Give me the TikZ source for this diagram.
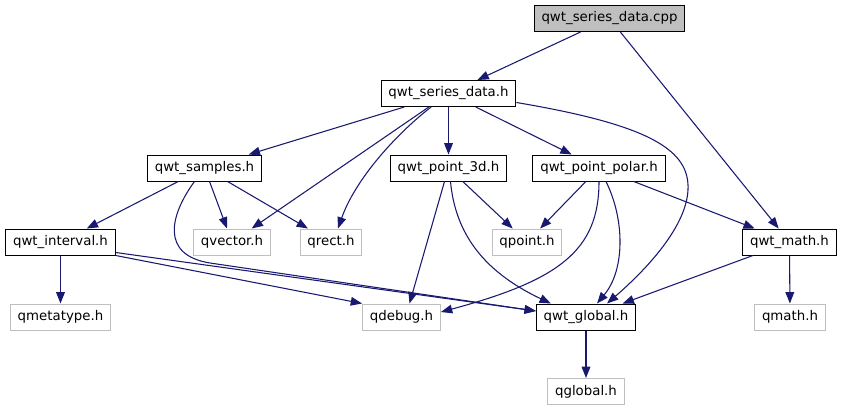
\documentclass[tikz,border=0pt]{standalone}
\usepackage{fontspec}
\setmainfont{DejaVu Sans}
\usepackage{xcolor}
\usepackage{tikz}
\usetikzlibrary{arrows.meta,calc}
\definecolor{edgeblue}{HTML}{191970}
\definecolor{extgray}{HTML}{BFBFBF}

\begin{document}
\begin{tikzpicture}[x=0.75pt, y=-0.75pt,
  hdr/.style={draw=black, line width=0.75pt, minimum height=19.5pt,
              inner xsep=5.5pt, inner ysep=0pt,
              font=\fontsize{10}{12}\selectfont},
  ext/.style={hdr, draw=extgray},
  src/.style={hdr, fill=extgray},
  dep/.style={draw=edgeblue, line width=0.8pt,
              -{Triangle[length=8.5pt,width=6.5pt]}},
]
  \useasboundingbox (0,0) rectangle (844,411);

  % Source file and the headers of the library
  \node[src] (cpp)      at (609.5, 18.5) {qwt\_series\_data.cpp};
  \node[hdr] (sdata)    at (448.5, 93.5) {qwt\_series\_data.h};
  \node[hdr] (samples)  at (204.5, 168)  {qwt\_samples.h};
  \node[hdr] (p3d)      at (448.5, 168)  {qwt\_point\_3d.h};
  \node[hdr] (polar)    at (599,   168)  {qwt\_point\_polar.h};
  \node[hdr] (interval) at (60.5,  242)  {qwt\_interval.h};
  \node[hdr] (math)     at (789.5, 242)  {qwt\_math.h};
  \node[hdr] (global)   at (586,   317)  {qwt\_global.h};

  % Qt headers (external, grey frames)
  \node[ext] (qvector)   at (232,   242)   {qvector.h};
  \node[ext] (qrect)     at (331,   242)   {qrect.h};
  \node[ext] (qpoint)    at (527,   242)   {qpoint.h};
  \node[ext] (qmetatype) at (60.5,  317)   {qmetatype.h};
  \node[ext] (qdebug)    at (401.5, 317)   {qdebug.h};
  \node[ext] (qmath)     at (790,   317)   {qmath.h};
  \node[ext] (qglobal)   at (586,   391.5) {qglobal.h};

  % Includes of the source file
  \draw[dep] (cpp) -- (sdata);
  \draw[dep] (cpp) -- (math);

  % qwt_series_data.h
  \draw[dep] (sdata) -- (samples);
  \draw[dep] (sdata) -- (qvector);
  \draw[dep] (sdata) .. controls (395,135) and (355,180) .. ($(qrect.north)+(7,0)$);
  \draw[dep] (sdata) -- (p3d);
  \draw[dep] (sdata) -- (polar);
  \draw[dep] ($(sdata.east)+(0,9)$) .. controls (650,125) and (690,150) .. (688,190)
             .. controls (686,230) and (640,275) .. ($(global.north)+(21,0)$);

  % qwt_samples.h
  \draw[dep] (samples) -- (interval);
  \draw[dep] (samples) -- (qvector);
  \draw[dep] (samples) -- (qrect);
  \draw[dep] ($(samples.south)+(-10,0)$) .. controls (170,215) and (160,255) .. (210,263)
             -- ($(global.west)+(0,-6)$);

  % qwt_point_3d.h
  \draw[dep] (p3d) -- (qpoint);
  \draw[dep] ($(p3d.south)+(-4,0)$) -- ($(qdebug.north)+(8,0)$);
  \draw[dep] ($(p3d.south)+(2,0)$) .. controls (455,230) and (480,270)
             .. ($(global.north west)+(15,0)$);

  % qwt_point_polar.h
  \draw[dep] (polar) -- (qpoint);
  \draw[dep] (polar.south) .. controls (599,250) and (560,280) .. ($(qdebug.east)+(0,-5)$);
  \draw[dep] ($(polar.south)+(7,0)$) .. controls (625,220) and (625,270)
             .. ($(global.north)+(11,0)$);
  \draw[dep] (polar) -- (math);

  % qwt_interval.h
  \draw[dep] (interval) -- (qmetatype);
  \draw[dep] (interval.south east) -- (qdebug.north west);
  \draw[dep] ($(interval.south east)+(0,-3)$) -- ($(global.west)+(0,-6)$);

  % qwt_math.h and qwt_global.h
  \draw[dep] (math) -- (global);
  \draw[dep] (math) -- (qmath);
  \draw[dep] (global) -- (qglobal);
\end{tikzpicture}
\end{document}
